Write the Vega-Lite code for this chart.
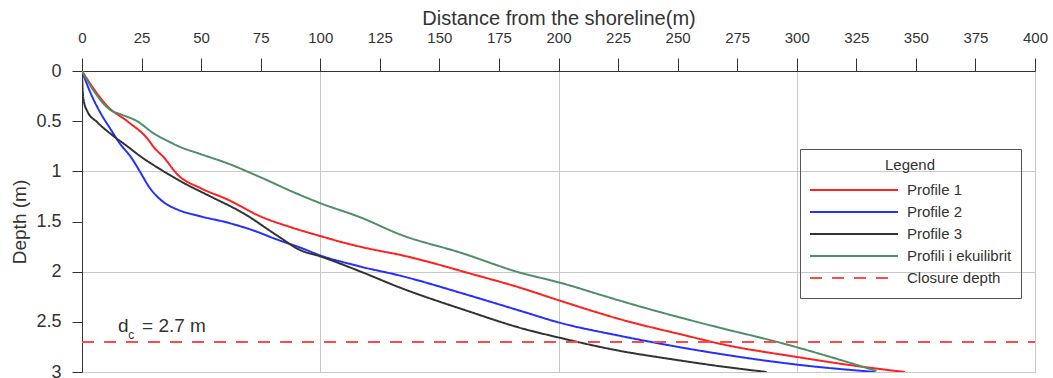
{
  "$schema": "https://vega.github.io/schema/vega-lite/v6.json",
  "width": 953,
  "height": 301,
  "autosize": {"type": "none"},
  "padding": {"left": 82, "top": 71, "right": 18, "bottom": 6},
  "background": "white",
  "config": {
    "font": "Liberation Sans",
    "view": {"stroke": "#c8c8c8", "strokeWidth": 1},
    "axis": {
      "domainColor": "#333333",
      "tickColor": "#333333",
      "gridColor": "#c8c8c8",
      "gridWidth": 1,
      "labelColor": "#333333",
      "titleColor": "#333333",
      "labelFont": "Liberation Sans",
      "titleFont": "Liberation Sans",
      "titleFontWeight": "normal"
    }
  },
  "datasets": {
    "profiles": [
      {"series": "Profile 1", "x": 0, "y": 0},
      {"series": "Profile 1", "x": 5, "y": 0.18},
      {"series": "Profile 1", "x": 10.6, "y": 0.35},
      {"series": "Profile 1", "x": 19, "y": 0.5},
      {"series": "Profile 1", "x": 27.3, "y": 0.67},
      {"series": "Profile 1", "x": 30.5, "y": 0.77},
      {"series": "Profile 1", "x": 34.3, "y": 0.86},
      {"series": "Profile 1", "x": 40, "y": 1.03},
      {"series": "Profile 1", "x": 50, "y": 1.17},
      {"series": "Profile 1", "x": 61, "y": 1.28},
      {"series": "Profile 1", "x": 75, "y": 1.45},
      {"series": "Profile 1", "x": 88, "y": 1.56},
      {"series": "Profile 1", "x": 100, "y": 1.645},
      {"series": "Profile 1", "x": 113, "y": 1.73},
      {"series": "Profile 1", "x": 126.5, "y": 1.8},
      {"series": "Profile 1", "x": 131, "y": 1.82},
      {"series": "Profile 1", "x": 145, "y": 1.9},
      {"series": "Profile 1", "x": 161.6, "y": 2.01},
      {"series": "Profile 1", "x": 183.9, "y": 2.16},
      {"series": "Profile 1", "x": 200.7, "y": 2.29},
      {"series": "Profile 1", "x": 226, "y": 2.475},
      {"series": "Profile 1", "x": 254, "y": 2.64},
      {"series": "Profile 1", "x": 268, "y": 2.72},
      {"series": "Profile 1", "x": 300, "y": 2.85},
      {"series": "Profile 1", "x": 325, "y": 2.94},
      {"series": "Profile 1", "x": 345.4, "y": 3.0},
      {"series": "Profile 2", "x": 0, "y": 0},
      {"series": "Profile 2", "x": 3.6, "y": 0.22},
      {"series": "Profile 2", "x": 7.8, "y": 0.42},
      {"series": "Profile 2", "x": 12, "y": 0.58},
      {"series": "Profile 2", "x": 16.1, "y": 0.73},
      {"series": "Profile 2", "x": 20.3, "y": 0.85},
      {"series": "Profile 2", "x": 24.5, "y": 1.01},
      {"series": "Profile 2", "x": 28, "y": 1.15},
      {"series": "Profile 2", "x": 31.5, "y": 1.25},
      {"series": "Profile 2", "x": 35, "y": 1.32},
      {"series": "Profile 2", "x": 39.9, "y": 1.38},
      {"series": "Profile 2", "x": 50, "y": 1.45},
      {"series": "Profile 2", "x": 60.9, "y": 1.51},
      {"series": "Profile 2", "x": 72, "y": 1.59},
      {"series": "Profile 2", "x": 81.9, "y": 1.68},
      {"series": "Profile 2", "x": 91.6, "y": 1.76},
      {"series": "Profile 2", "x": 100.3, "y": 1.84},
      {"series": "Profile 2", "x": 117, "y": 1.95},
      {"series": "Profile 2", "x": 133.6, "y": 2.04},
      {"series": "Profile 2", "x": 161.6, "y": 2.23},
      {"series": "Profile 2", "x": 183.9, "y": 2.39},
      {"series": "Profile 2", "x": 200.7, "y": 2.51},
      {"series": "Profile 2", "x": 225.9, "y": 2.64},
      {"series": "Profile 2", "x": 267.8, "y": 2.82},
      {"series": "Profile 2", "x": 301.4, "y": 2.93},
      {"series": "Profile 2", "x": 332.8, "y": 3.0},
      {"series": "Profile 3", "x": 0, "y": 0},
      {"series": "Profile 3", "x": 0.2, "y": 0.15},
      {"series": "Profile 3", "x": 0.6, "y": 0.28},
      {"series": "Profile 3", "x": 2.2, "y": 0.4},
      {"series": "Profile 3", "x": 6.4, "y": 0.51},
      {"series": "Profile 3", "x": 13.3, "y": 0.65},
      {"series": "Profile 3", "x": 19, "y": 0.75},
      {"series": "Profile 3", "x": 24.5, "y": 0.85},
      {"series": "Profile 3", "x": 32.9, "y": 0.98},
      {"series": "Profile 3", "x": 43, "y": 1.12},
      {"series": "Profile 3", "x": 53.9, "y": 1.25},
      {"series": "Profile 3", "x": 67.9, "y": 1.42},
      {"series": "Profile 3", "x": 81.9, "y": 1.64},
      {"series": "Profile 3", "x": 91.6, "y": 1.785},
      {"series": "Profile 3", "x": 100.3, "y": 1.85},
      {"series": "Profile 3", "x": 117, "y": 2.0},
      {"series": "Profile 3", "x": 133.6, "y": 2.16},
      {"series": "Profile 3", "x": 161.6, "y": 2.39},
      {"series": "Profile 3", "x": 183.9, "y": 2.56},
      {"series": "Profile 3", "x": 200.7, "y": 2.66},
      {"series": "Profile 3", "x": 225.9, "y": 2.79},
      {"series": "Profile 3", "x": 246.8, "y": 2.87},
      {"series": "Profile 3", "x": 267, "y": 2.94},
      {"series": "Profile 3", "x": 287.4, "y": 3.0},
      {"series": "Profili i ekuilibrit", "x": 0, "y": 0},
      {"series": "Profili i ekuilibrit", "x": 5, "y": 0.2},
      {"series": "Profili i ekuilibrit", "x": 12, "y": 0.39},
      {"series": "Profili i ekuilibrit", "x": 16.1, "y": 0.43},
      {"series": "Profili i ekuilibrit", "x": 23.1, "y": 0.5},
      {"series": "Profili i ekuilibrit", "x": 30, "y": 0.62},
      {"series": "Profili i ekuilibrit", "x": 37, "y": 0.71},
      {"series": "Profili i ekuilibrit", "x": 40.5, "y": 0.75},
      {"series": "Profili i ekuilibrit", "x": 50, "y": 0.83},
      {"series": "Profili i ekuilibrit", "x": 61, "y": 0.92},
      {"series": "Profili i ekuilibrit", "x": 75, "y": 1.06},
      {"series": "Profili i ekuilibrit", "x": 89, "y": 1.21},
      {"series": "Profili i ekuilibrit", "x": 100.3, "y": 1.32},
      {"series": "Profili i ekuilibrit", "x": 117, "y": 1.46},
      {"series": "Profili i ekuilibrit", "x": 133.6, "y": 1.63},
      {"series": "Profili i ekuilibrit", "x": 158.8, "y": 1.81},
      {"series": "Profili i ekuilibrit", "x": 183.9, "y": 2.01},
      {"series": "Profili i ekuilibrit", "x": 200.7, "y": 2.11},
      {"series": "Profili i ekuilibrit", "x": 217.5, "y": 2.23},
      {"series": "Profili i ekuilibrit", "x": 225.9, "y": 2.29},
      {"series": "Profili i ekuilibrit", "x": 267.8, "y": 2.56},
      {"series": "Profili i ekuilibrit", "x": 290.2, "y": 2.69},
      {"series": "Profili i ekuilibrit", "x": 329.4, "y": 2.96},
      {"series": "Profili i ekuilibrit", "x": 333.5, "y": 2.99},
      {"series": "Closure depth", "x": 0, "y": 2.7},
      {"series": "Closure depth", "x": 400, "y": 2.7}
    ]
  },
  "layer": [
    {
      "data": {"name": "profiles"},
      "mark": {"type": "line", "interpolate": "monotone", "clip": true},
      "encoding": {
        "x": {
          "field": "x",
          "type": "quantitative",
          "scale": {"domain": [0, 400], "nice": false, "zero": false},
          "axis": {
            "orient": "top",
            "title": "Distance from the shoreline(m)",
            "titleFontSize": 20,
            "titlePadding": 2,
            "labelFontSize": 15,
            "values": [0, 25, 50, 75, 100, 125, 150, 175, 200, 225, 250, 275, 300, 325, 350, 375, 400],
            "tickSize": 13,
            "labelPadding": 13,
            "labelFlush": false,
            "labelOverlap": false,
            "gridOpacity": {"condition": {"test": "datum.value % 100 === 0", "value": 1}, "value": 0}
          }
        },
        "y": {
          "field": "y",
          "type": "quantitative",
          "scale": {"domain": [0, 3], "reverse": true, "nice": false, "zero": false},
          "axis": {
            "title": "Depth (m)",
            "titleFontSize": 19,
            "titlePadding": 6,
            "labelFontSize": 18,
            "format": "~g",
            "values": [0, 0.5, 1, 1.5, 2, 2.5, 3],
            "tickSize": 10,
            "labelPadding": 11,
            "labelFlush": false,
            "labelOverlap": false,
            "gridOpacity": {"condition": {"test": "datum.value % 1 === 0", "value": 1}, "value": 0}
          }
        },
        "color": {
          "field": "series",
          "type": "nominal",
          "scale": {
            "domain": ["Profile 1", "Profile 2", "Profile 3", "Profili i ekuilibrit", "Closure depth"],
            "range": ["#ff2020", "#2430ff", "#333333", "#4f8f66", "#ff4a4a"]
          },
          "legend": {
            "title": "Legend",
            "orient": "none",
            "legendX": 718,
            "legendY": 78,
            "symbolType": "stroke",
            "symbolSize": 7744,
            "clipHeight": 22,
            "rowPadding": 0,
            "labelOffset": 8,
            "labelFontSize": 15,
            "labelFont": "Liberation Sans",
            "labelColor": "#333333",
            "labelLimit": 200,
            "titleFontSize": 15,
            "titleFont": "Liberation Sans",
            "titleFontWeight": "normal",
            "titleColor": "#333333",
            "titleAnchor": "middle",
            "titleAlign": "center",
            "titlePadding": 6,
            "padding": 9,
            "strokeColor": "#555555",
            "fillColor": null,
            "cornerRadius": 0
          }
        },
        "strokeDash": {
          "field": "series",
          "type": "nominal",
          "scale": {
            "domain": ["Profile 1", "Profile 2", "Profile 3", "Profili i ekuilibrit", "Closure depth"],
            "range": [[1, 0], [1, 0], [1, 0], [1, 0], [12, 10]]
          },
          "legend": {"title": "Legend"}
        },
        "strokeWidth": {
          "field": "series",
          "type": "nominal",
          "scale": {
            "domain": ["Profile 1", "Profile 2", "Profile 3", "Profili i ekuilibrit", "Closure depth"],
            "range": [2, 2, 2.6, 1.2, 1.5]
          },
          "legend": {"title": "Legend"}
        }
      }
    },
    {
      "data": {"values": [{"t": "d"}]},
      "mark": {"type": "text", "align": "left", "baseline": "alphabetic", "fontSize": 19, "color": "#333333"},
      "encoding": {"text": {"field": "t"}, "x": {"datum": 15.1}, "y": {"datum": 2.6}}
    },
    {
      "data": {"values": [{"t": "c"}]},
      "mark": {"type": "text", "align": "left", "baseline": "alphabetic", "fontSize": 12, "color": "#333333"},
      "encoding": {"text": {"field": "t"}, "x": {"datum": 19.4}, "y": {"datum": 2.67}}
    },
    {
      "data": {"values": [{"t": "= 2.7 m"}]},
      "mark": {"type": "text", "align": "left", "baseline": "alphabetic", "fontSize": 19, "color": "#333333"},
      "encoding": {"text": {"field": "t"}, "x": {"datum": 25.2}, "y": {"datum": 2.6}}
    }
  ]
}
